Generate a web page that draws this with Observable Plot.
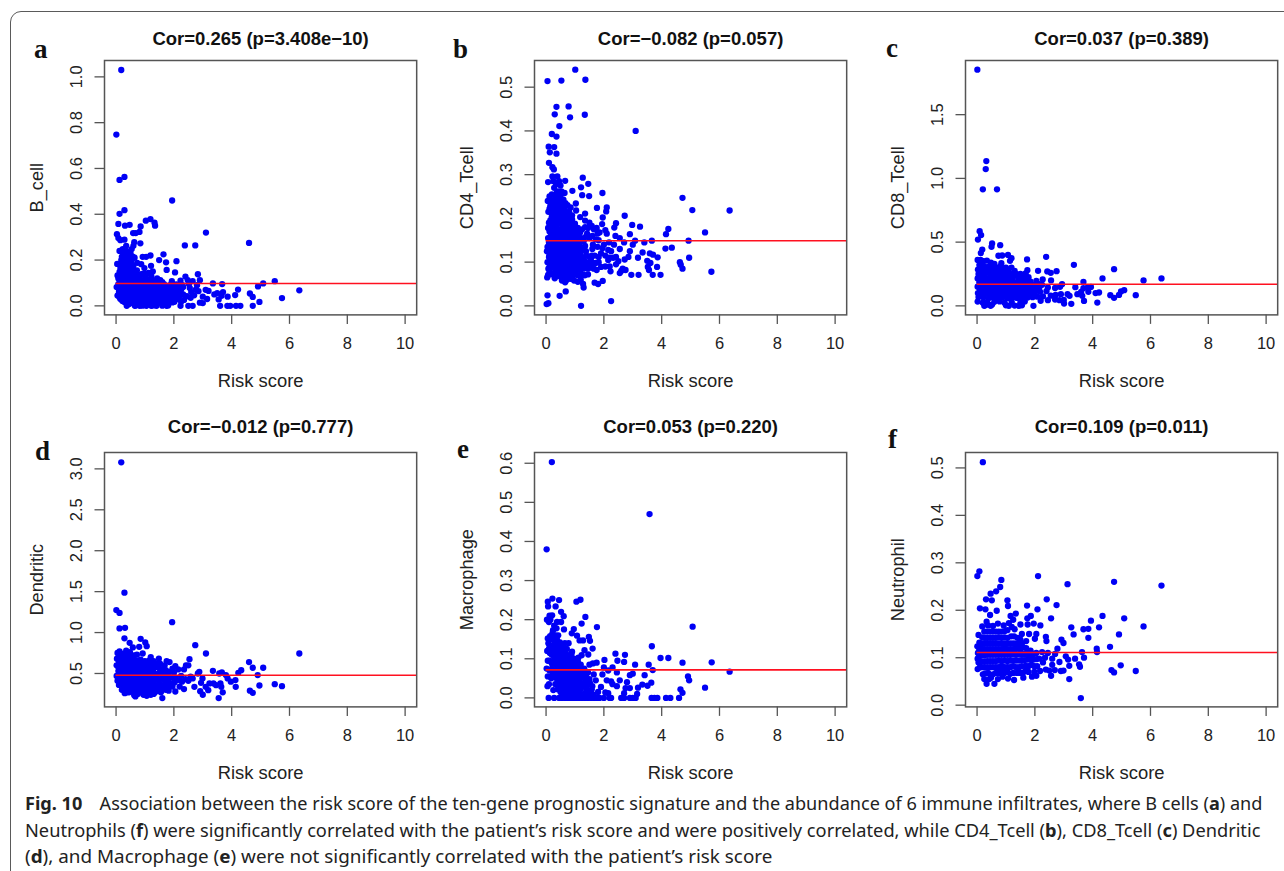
<!DOCTYPE html>
<html><head><meta charset="utf-8">
<script src="https://cdn.jsdelivr.net/npm/d3@7"></script>
<script src="https://cdn.jsdelivr.net/npm/@observablehq/plot@0.6"></script>
<style>
html,body{margin:0;padding:0;background:#fff;width:1284px;height:871px;overflow:hidden}
#page{position:relative;width:1284px;height:871px;overflow:hidden}
#card{position:absolute;left:10px;top:10.5px;width:1500px;height:1200px;border:1.5px solid #5a5a5a;border-radius:11px;box-sizing:border-box}
.panel{position:absolute}
.tag{position:absolute;font:bold 27px "Liberation Serif",serif;color:#111;line-height:1}
.cap{position:absolute;left:25px;white-space:nowrap;font:18.5px "Noto Sans",sans-serif;color:#222;transform-origin:left center}
.cap .fig{margin-right:8px}
</style></head><body><div id="page"><div id="card"></div></div>
<script>
const riskTicks=[0,2,4,6,8,10];
const riskDomain=[-0.4,10.4];
const panelLabels=["B_cell","CD4_Tcell","CD8_Tcell","Dendritic","Macrophage","Neutrophil"];
const panelTitles=["Cor=0.265 (p=3.408e−10)","Cor=−0.082 (p=0.057)","Cor=0.037 (p=0.389)","Cor=−0.012 (p=0.777)","Cor=0.053 (p=0.220)","Cor=0.109 (p=0.011)"];
const panelTags=["a","b","c","d","e","f"];
const meanValues=[0.0975,0.149,0.170,0.479,0.0716,0.111];
const yDomains=[[-0.0394,1.0715],[-0.0206,0.561],[-0.0707,1.925],[0.092,3.2],[-0.023,0.6275],[-0.0036,0.5325]];
const yTicks=[[0,0.2,0.4,0.6,0.8,1.0],[0,0.1,0.2,0.3,0.4,0.5],[0,0.5,1.0,1.5],[0.5,1.0,1.5,2.0,2.5,3.0],[0,0.1,0.2,0.3,0.4,0.5,0.6],[0,0.1,0.2,0.3,0.4,0.5]];

const bCell=[[.18,1.03],[.01,.748],[.12,.55],[.29,.563],[1.94,.46],[.29,.418],[.12,.402],[.08,.358],[.31,.35],[.47,.354],[.03,.313],[.08,.296],[.15,.287],[.29,.289],[.59,.318],[.68,.318],[.81,.323],[.85,.347],[1.03,.372],[1.19,.379],[1.33,.363],[1.35,.35],[3.11,.32],[4.6,.275],[2.38,.264],[2.74,.264],[.84,.273],[.63,.278],[.6,.262],[.54,.248],[.35,.262],[.23,.248],[.12,.24],[1.64,.225],[1.19,.22],[.92,.214],[1.04,.214],[1.49,.2],[2.09,.195],[1.73,.19],[1.75,.157],[.73,.188],[.87,.182],[1.21,.175],[.98,.165],[2.04,.146],[2.83,.138],[2.4,.128],[2.9,.112],[3.35,.098],[3.67,.095],[5.09,.098],[5.49,.108],[4.91,.085],[6.34,.068],[5.74,.034],[4.22,.071],[3.86,.04],[4.12,.047],[4.63,.054],[4.73,.039],[4.96,.017],[4.73,0],[3.6,0],[3.85,0],[3.95,0],[4.15,0],[4.3,0],
[.37,0],[.65,0],[.68,.002],[.82,0],[.92,.001],[1.05,0],[1.22,0],[1.3,.002],[1.4,0],[1.6,.001],[1.75,0],[1.8,.002],[2.23,0],[2.5,0],[2.65,0],[.3,.016],[.5,.012],[.8,.014],[1.1,.017],[1.5,.013],[1.95,.015],[2.25,.018],[2.9,.014],[3.0,.012],[.15,.03],[.25,.028],[.45,.031],[.6,.029],[.75,.032],[.95,.03],[1.15,.027],[1.35,.031],[1.55,.029],[1.7,.033],[1.9,.028],[2.1,.03],[2.35,.026],[3.15,.03],[3.55,.028],[.05,.045],[.2,.043],[.35,.047],[.55,.044],[.7,.046],[.9,.048],[1.1,.044],[1.25,.047],[1.45,.043],[1.65,.046],[1.85,.049],[2.05,.044],[2.45,.042],[2.7,.046],[3.0,.04],[3.4,.05],[3.65,.044],[.1,.06],[.3,.062],[.5,.059],[.65,.063],[.85,.06],[1.0,.062],[1.2,.058],[1.4,.063],[1.6,.06],[1.8,.061],[2.0,.058],[2.2,.063],[2.6,.06],[2.85,.064],[3.1,.07],[3.5,.056],[3.7,.06],[3.2,.065],[.02,.082],[.18,.077],[.4,.079],[.58,.076],[.78,.08],[.96,.077],[1.12,.081],[1.32,.076],[1.52,.079],[1.72,.077],[1.92,.08],[2.12,.076],[2.32,.082],[2.55,.078],[2.75,.07],[.08,.095],[.28,.092],[.46,.095],[.68,.09],[.88,.095],[1.06,.092],[1.26,.096],[1.46,.091],[1.66,.095],[1.86,.09],[2.08,.094],[2.3,.09],[2.52,.096],[2.8,.09],[.13,.11],[.33,.108],[.53,.112],[.73,.107],[.93,.11],[1.13,.114],[1.33,.108],[1.53,.112],[1.93,.108],[2.23,.11],[2.48,.112],[2.65,.108],[.05,.133],[.15,.13],[.25,.127],[.42,.128],[.62,.126],[.82,.125],[1.02,.128],[1.22,.13],[1.42,.12],[.04,.183],[.2,.145],[.33,.148],[.5,.145],[.7,.142],[.9,.14],[1.12,.144],[1.27,.15],[.15,.165],[.25,.163],[.4,.162],[.58,.16],[.72,.155],[.2,.185],[.33,.18],[.45,.178],[.6,.175],[.28,.2],[.4,.198],[.52,.195],[.64,.21],[.58,.215],[.2,.215],[.3,.225],[.44,.218],[.36,.24],[.26,.235],[.5,.23]];
const bCellDense=[[.45,.008],[.75,.007],[1.0,.009],[1.35,.01],[1.68,.008],[.22,.021],[.4,.02],[.62,.018],[.88,.021],[1.05,.02],[1.25,.019],[1.42,.02],[1.62,.018],[1.82,.02],[2.02,.018],[.12,.038],[.3,.037],[.5,.038],[.66,.037],[.82,.039],[1.02,.037],[1.2,.038],[1.4,.037],[1.58,.038],[1.78,.039],[1.98,.037],[2.18,.04],[2.58,.035],[.22,.054],[.42,.053],[.6,.052],[.78,.053],[.95,.054],[1.15,.053],[1.32,.054],[1.52,.053],[1.72,.054],[1.92,.054],[2.12,.052],[2.32,.05],[.1,.072],[.28,.07],[.48,.069],[.7,.07],[.88,.071],[1.08,.07],[1.28,.069],[1.48,.07],[1.65,.069],[1.85,.07],[2.05,.069],[2.25,.07],[.15,.088],[.35,.086],[.52,.085],[.75,.086],[.98,.086],[1.18,.087],[1.4,.086],[1.58,.087],[1.78,.086],[2.0,.085],[2.2,.085],[.22,.102],[.42,.102],[.62,.1],[.8,.1],[1.0,.101],[1.2,.104],[1.42,.1],[1.6,.104],[.08,.12],[.22,.118],[.42,.118],[.6,.118],[.8,.118],[1.03,.118],[1.22,.118],[.12,.148],[.28,.14],[.43,.14],[.6,.137],[.8,.135],[1.0,.14],[.3,.172],[.5,.168],[.38,.19],[.18,.2],[.47,.205],[.35,.208]];

const cd4=[[.05,.514],[.53,.515],[1.01,.54],[1.36,.517],[.36,.455],[.78,.456],[.3,.438],[.83,.431],[1.34,.437],[.46,.411],[3.1,.4],[.2,.393],[.36,.387],[.09,.364],[.28,.363],[.13,.351],[.36,.348],[.1,.327],[.22,.317],[.27,.312],[1.27,.293],[.39,.296],[.22,.296],[.07,.283],[.66,.286],[1.46,.279],[1.21,.271],[.91,.263],[1.95,.258],[1.49,.251],[1.25,.253],[4.72,.247],[1.03,.234],[1.76,.224],[2.1,.225],[2.08,.216],[5.06,.219],[6.35,.218],[2.72,.206],[1.04,.218],[1.35,.211],[1.96,.202],[1.94,.187],[2.98,.185],[2.42,.189],[2.36,.179],[3.25,.181],[4.23,.176],[4.15,.164],[5.5,.168],[2.9,.164],[2.05,.173],[2.4,.16],[3.66,.149],[4.93,.149],[3.4,.145],[3.08,.149],[3,.14],[4.35,.133],[4.13,.131],[3.34,.122],[3.59,.12],[3.7,.117],[3.86,.111],[3.18,.11],[4.95,.11],[4.63,.1],[3.5,.103],[3.61,.098],[4.66,.094],[3.52,.089],[3.84,.089],[4.72,.085],[3.56,.082],[5.72,.078],[2.95,.071],[3.2,.071],[3.69,.071],[3.96,.071],[2.75,.082],[2.55,.075],[2.6,.08],[2.23,.079],[1.96,.057],[1.68,.053],[1.8,.05],[1.3,.042],[1.28,.05],[.05,.024],[.47,.023],[.68,.033],[.02,.004],[.08,.006],[1.21,0],[2.25,.011],
[.04,.065],[.07,.071],[.18,.072],[.3,.063],[.45,.068],[.55,.058],[.66,.054],[.72,.06],[.85,.062],[.97,.058],[1.1,.055],[1.2,.06],[1.34,.07],[1.45,.072],[.08,.085],[.2,.088],[.33,.082],[.47,.079],[.6,.074],[.75,.078],[.88,.076],[1.03,.08],[1.18,.082],[1.55,.088],[1.75,.082],[1.9,.089],[2.05,.09],[2.2,.09],[2.42,.095],[2.65,.085],[.05,.1],[.14,.104],[.28,.098],[.4,.097],[.52,.092],[.66,.095],[.8,.09],[.93,.094],[1.08,.098],[1.25,.095],[1.4,.094],[1.62,.098],[1.82,.1],[2.15,.105],[2.32,.11],[2.5,.102],[2.72,.106],[2.85,.112],[.03,.125],[.12,.118],[.22,.116],[.35,.112],[.47,.108],[.58,.113],[.72,.108],[.85,.112],[.97,.108],[1.12,.11],[1.3,.11],[1.5,.112],[1.68,.115],[1.9,.12],[2.25,.125],[2.55,.13],[2.9,.125],[.05,.135],[.15,.135],[.27,.13],[.4,.13],[.55,.128],[.68,.125],[.8,.128],[.93,.126],[1.07,.125],[1.22,.128],[1.38,.125],[1.6,.13],[1.78,.135],[2.0,.14],[2.18,.145],[2.7,.145],[.07,.155],[.2,.15],[.32,.148],[.47,.145],[.6,.145],[.73,.142],[.87,.145],[1.0,.142],[1.15,.145],[1.3,.148],[1.5,.155],[1.72,.152],[2.55,.155],[.12,.17],[.25,.165],[.38,.163],[.52,.16],[.65,.16],[.8,.16],[.95,.163],[1.1,.16],[1.25,.175],[1.42,.165],[1.65,.175],[1.85,.168],[.1,.19],[.22,.182],[.35,.18],[.48,.175],[.62,.178],[.78,.176],[.92,.18],[1.1,.178],[1.5,.19],[1.75,.178],[.2,.205],[.32,.2],[.45,.195],[.6,.192],[.75,.195],[.9,.198],[1.18,.203],[.12,.222],[.25,.218],[.38,.212],[.52,.21],[.66,.21],[.8,.215],[.06,.24],[.17,.24],[.3,.232],[.44,.228],[.58,.226],[.74,.23],[.85,.225],[.2,.255],[.33,.25],[.46,.245],[.6,.243],[.28,.27],[.42,.262],[.53,.262],[.64,.258],[.5,.275]];
const cd4Dense=[[.12,.078],[.26,.075],[.4,.072],[.53,.07],[.67,.068],[.8,.07],[.95,.07],[1.1,.07],[1.25,.072],[.13,.092],[.26,.09],[.4,.088],[.54,.085],[.68,.085],[.82,.083],[.97,.085],[1.12,.088],[1.3,.085],[1.45,.085],[1.65,.085],[.1,.112],[.28,.11],[.42,.105],[.55,.103],[.72,.1],[.87,.1],[1.02,.102],[1.18,.103],[1.33,.102],[1.5,.1],[1.72,.098],[.08,.125],[.18,.125],[.3,.12],[.42,.12],[.52,.118],[.65,.117],[.78,.118],[.92,.117],[1.05,.115],[1.2,.117],[1.4,.115],[1.58,.115],[.1,.145],[.23,.142],[.36,.14],[.5,.137],[.63,.135],[.77,.135],[.9,.135],[1.03,.135],[1.17,.136],[1.35,.137],[.15,.158],[.28,.157],[.42,.155],[.55,.153],[.68,.152],[.82,.153],[.95,.153],[1.08,.152],[1.23,.155],[1.38,.158],[.07,.178],[.18,.175],[.3,.172],[.44,.168],[.58,.168],[.72,.168],[.87,.17],[1.0,.17],[1.18,.168],[1.35,.18],[.15,.196],[.27,.192],[.4,.188],[.55,.185],[.7,.186],[.85,.188],[1.0,.188],[.08,.215],[.2,.212],[.32,.208],[.46,.203],[.6,.202],[.75,.205],[.9,.207],[.15,.23],[.25,.228],[.38,.222],[.5,.22],[.65,.22],[.12,.25],[.27,.242],[.4,.238],[.53,.235],[.67,.235],[.37,.258],[.5,.252],[.35,.278],[.25,.285],[.45,.285],[1.55,.108],[1.82,.112],[2.05,.115],[2.2,.11],[2.42,.112],[1.62,.14],[1.82,.15],[1.95,.132],[2.15,.128],[2.35,.14],[1.45,.178],[1.6,.16],[1.58,.183],[1.78,.165],[1.35,.195],[2.1,.165]];

const cd8=[[.01,1.853],[.32,1.136],[.3,1.073],[.2,.914],[.69,.914],[.09,.586],[.14,.555],[.03,.52],[.52,.49],[.5,.463],[.8,.476],[.18,.442],[.13,.414],[1.07,.4],[.87,.395],[.74,.393],[2.39,.385],[1.19,.374],[1.14,.353],[1.73,.364],[3.35,.322],[.84,.335],[4.74,.288],[2.11,.275],[2.75,.272],[2.43,.27],[2.55,.259],[1.74,.28],[1.19,.3],[4.34,.215],[5.76,.2],[6.38,.215],[2.56,.2],[3.68,.188],[2.27,.207],[2.94,.17],[3.4,.147],[5.09,.123],[4.98,.113],[5.49,.084],[4.91,.086],[4.61,.084],[4.74,.063],[4.22,.105],[4.1,.1],[4.16,.026],[3.85,.11],[3.94,.149],[3.83,.144],[3.68,.139],[3.47,.092],[3.6,.11],[3.64,.079],[3.7,.039],[3.26,.016],[3.2,.079],[3.13,.092],[3,.047],[3.01,.018],[2.9,.092],[1.95,0],
[.25,0],[.3,.006],[.47,0],[.52,.01],[1.0,.005],[1.1,0],[1.3,.002],[1.45,0],[1.55,.004],[.02,.034],[.2,.025],[.35,.03],[.6,.032],[.78,.035],[.95,.025],[1.2,.03],[1.5,.028],[1.65,.034],[2.2,.04],[2.45,.045],[2.7,.05],[2.85,.045],[.05,.07],[.22,.065],[.4,.06],[.55,.066],[.7,.062],[.88,.066],[1.05,.06],[1.22,.064],[1.38,.062],[1.58,.07],[1.75,.065],[1.92,.068],[2.08,.072],[2.28,.075],[2.55,.08],[2.72,.086],[.03,.1],[.15,.095],[.3,.098],[.48,.094],[.65,.096],[.8,.097],[.98,.093],[1.12,.096],[1.3,.098],[1.48,.095],[1.68,.1],[1.85,.102],[2.0,.105],[2.18,.11],[2.4,.115],[.1,.125],[.25,.128],[.42,.126],[.58,.128],[.72,.125],[.9,.127],[1.05,.125],[1.23,.128],[1.4,.125],[1.6,.13],[1.78,.132],[1.95,.138],[2.15,.14],[2.45,.145],[2.7,.14],[2.87,.15],[.02,.15],[.16,.155],[.33,.157],[.5,.156],[.66,.158],[.84,.156],[1.0,.158],[1.17,.155],[1.34,.157],[1.52,.156],[1.7,.16],[1.9,.165],[2.25,.165],[.08,.185],[.26,.187],[.44,.186],[.62,.19],[.78,.186],[.95,.187],[1.12,.188],[1.3,.187],[1.48,.19],[1.66,.195],[1.85,.19],[2.05,.195],[.02,.215],[.18,.218],[.36,.216],[.54,.218],[.7,.22],[.88,.215],[1.05,.22],[1.22,.218],[1.42,.22],[1.6,.225],[1.78,.225],[.05,.25],[.1,.245],[.27,.248],[.45,.25],[.62,.248],[.8,.248],[.98,.25],[1.15,.25],[1.35,.25],[1.68,.255],[.03,.285],[.2,.28],[.38,.278],[.55,.28],[.72,.275],[.9,.278],[1.08,.28],[1.3,.275],[.08,.32],[.25,.31],[.42,.31],[.58,.31],[.78,.305],[1.0,.3],[.02,.36],[.12,.36],[.22,.35],[.34,.355],[.48,.34],[.6,.33]];
const cd8Dense=[[1.15,.06],[1.5,.07],[1.1,.1],[1.55,.105],[1.75,.1],[1.95,.1],[1.7,.13],[1.85,.13],[2.05,.135],[1.45,.13],[1.8,.16],[2.0,.16],[2.15,.17],[1.6,.19],[1.45,.16],[1.75,.19],[1.5,.22],[1.3,.25],[1.5,.25],[.15,.3],[.33,.3],[.5,.29],[.68,.29],[.85,.3]];

const dendritic=[[.18,3.08],[.29,1.487],[.01,1.275],[.12,1.24],[1.94,1.127],[.12,1.05],[.31,1.058],[.29,.93],[.85,.924],[1.01,.88],[1.06,.834],[.47,.875],[.8,.826],[.58,.818],[2.74,.846],[3.11,.744],[6.34,.744],[.92,.744],[2.54,.675],[4.6,.64],[4.73,.57],[5.09,.57],[4.33,.54],[4.23,.508],[4.9,.48],[5.49,.37],[5.74,.345],[4.96,.353],[4.63,.29],[4.73,.264],[4.14,.337],[4.13,.42],[3.97,.4],[3.86,.44],[3.8,.48],[3.66,.512],[3.57,.5],[3.35,.533],[2.88,.52],[2.83,.5],[2.99,.44],[3,.24],[2.91,.284],[3.55,.2],[3.69,.27],[3.64,.337],[3.61,.378],[3.46,.357],[3.37,.378],[3.23,.378],[3.19,.296],[3.1,.337],[2.94,.386],[2.71,.337],[1.6,.2],[.63,.235],[1.06,.227],
[.05,.75],[.12,.77],[.22,.74],[.35,.78],[.48,.76],[.62,.72],[.72,.73],[1.2,.7],[1.48,.68],[1.75,.65],[1.85,.64],[2.42,.6],[2.5,.6],[2.05,.59],[.03,.68],[.13,.69],[.27,.7],[.4,.68],[.55,.69],[.7,.66],[.85,.67],[1.0,.65],[1.15,.66],[1.3,.65],[1.52,.62],[1.68,.6],[1.95,.56],[2.15,.55],[2.35,.55],[.02,.6],[.15,.62],[.3,.62],[.45,.61],[.6,.6],[.75,.61],[.9,.59],[1.05,.6],[1.2,.58],[1.38,.58],[1.6,.55],[1.82,.52],[2.0,.51],[2.25,.47],[2.58,.46],[.08,.53],[.2,.55],[.35,.54],[.5,.54],[.65,.54],[.8,.53],[.95,.53],[1.12,.52],[1.28,.52],[1.47,.5],[1.72,.47],[1.9,.45],[2.12,.42],[2.4,.43],[2.65,.44],[.02,.47],[.15,.48],[.27,.47],[.42,.48],[.58,.47],[.72,.47],[.88,.46],[1.03,.46],[1.2,.45],[1.38,.46],[1.58,.44],[1.8,.41],[2.02,.39],[2.28,.4],[2.5,.41],[.05,.41],[.18,.41],[.33,.41],[.48,.41],[.64,.4],[.8,.41],[.96,.4],[1.12,.39],[1.3,.39],[1.5,.38],[1.7,.36],[1.95,.34],[2.2,.34],[2.35,.31],[.1,.36],[.25,.35],[.4,.35],[.56,.34],[.72,.34],[.88,.34],[1.05,.33],[1.22,.33],[1.42,.32],[1.62,.31],[1.82,.29],[2.05,.28],[.2,.3],[.33,.29],[.5,.3],[.68,.29],[.82,.28],[1.0,.28],[1.18,.28],[1.35,.27],[1.55,.27],[.3,.26],[.38,.27],[.75,.25],[.95,.24],[1.2,.24],[1.3,.25],[.67,.22]];
const dendriticDense=[[.1,.72],[.3,.74],[.45,.72],[.1,.64],[.22,.65],[.35,.65],[.5,.65],[.63,.65],[.78,.64],[.93,.63],[1.08,.62],[1.22,.62],[1.42,.62],[.08,.58],[.22,.58],[.38,.58],[.52,.58],[.68,.57],[.83,.57],[.98,.56],[1.13,.56],[1.3,.56],[1.5,.56],[1.72,.54],[.12,.5],[.27,.51],[.42,.51],[.58,.51],[.73,.5],[.88,.5],[1.03,.49],[1.2,.49],[1.38,.49],[1.58,.49],[1.82,.46],[2.05,.45],[.08,.44],[.23,.44],[.38,.44],[.53,.44],[.68,.43],[.83,.43],[.98,.43],[1.13,.42],[1.28,.42],[1.45,.42],[1.68,.41],[1.9,.38],[.15,.38],[.3,.38],[.45,.38],[.6,.37],[.76,.37],[.92,.37],[1.08,.36],[1.25,.36],[1.42,.35],[1.6,.35],[1.85,.34],[.3,.32],[.45,.32],[.6,.31],[.78,.31],[.95,.31],[1.12,.31],[1.3,.3],[1.48,.3],[1.72,.3],[.45,.27],[.6,.27],[.88,.27],[1.1,.26]];

const macrophage=[[.2,.603],[3.58,.47],[.02,.38],[5.07,.182],[.22,.254],[.06,.246],[.45,.25],[1.05,.246],[1.19,.251],[.07,.234],[.33,.234],[.21,.211],[.52,.22],[.61,.209],[1.36,.207],[.03,.2],[.1,.194],[.38,.194],[.52,.194],[1.23,.19],[1.76,.181],[.62,.175],[.96,.176],[.24,.173],[.89,.165],[1.48,.156],[1.07,.159],[1.52,.146],[1.16,.147],[1.28,.147],[1.61,.126],[3.66,.132],[1.33,.122],[2.4,.113],[2.73,.11],[1.46,.111],[1.23,.109],[3.96,.102],[4.23,.102],[2.02,.097],[2.47,.095],[2.7,.092],[4.72,.09],[5.73,.091],[3.55,.085],[3.08,.085],[3.69,.071],[6.35,.067],[4.91,.055],[4.95,.045],[3.41,.058],[3.64,.039],[3.51,.031],[3.33,.034],[3.18,.026],[5.5,.026],[4.65,.022],[4.72,.013],
[.09,0],[.28,0],[.45,0],[.55,0],[.65,0],[.75,0],[.85,0],[.95,0],[1.05,0],[1.15,0],[1.25,0],[1.35,0],[1.45,0],[1.55,0],[1.65,0],[1.75,0],[1.85,0],[2.0,0],[2.2,0],[2.25,0],[2.6,0],[2.7,0],[2.9,0],[3,0],[3.1,0],[3.65,0],[3.75,0],[3.85,0],[4.15,0],[4.3,0],[4.6,0],
[.05,.03],[.25,.02],[.5,.015],[.65,.018],[.8,.012],[.98,.014],[1.15,.016],[1.35,.012],[1.55,.016],[1.8,.015],[2.05,.014],[2.15,.012],[3.15,.01],[2.7,.012],[.1,.035],[.32,.035],[.48,.03],[.62,.032],[.78,.03],[.93,.032],[1.08,.03],[1.25,.03],[1.42,.032],[1.6,.03],[1.9,.028],[2.3,.035],[2.45,.03],[2.75,.025],[2.9,.025],[.06,.055],[.18,.05],[.36,.05],[.52,.048],[.68,.05],[.84,.048],[1.0,.05],[1.17,.048],[1.33,.05],[1.5,.048],[1.72,.045],[2.1,.045],[2.25,.042],[2.55,.045],[2.8,.04],[.02,.075],[.12,.07],[.28,.065],[.45,.067],[.6,.066],[.76,.066],[.92,.068],[1.1,.066],[1.27,.068],[1.45,.065],[1.65,.06],[1.95,.06],[2.15,.07],[2.45,.065],[2.9,.058],[3.0,.062],[.06,.095],[.2,.088],[.35,.085],[.52,.084],[.68,.085],[.85,.085],[1.03,.085],[1.2,.085],[1.5,.085],[1.62,.088],[1.75,.09],[2.0,.078],[2.3,.078],[.04,.12],[.13,.115],[.28,.105],[.45,.102],[.62,.104],[.8,.105],[1.0,.1],[1.12,.103],[.08,.14],[.2,.13],[.35,.125],[.52,.125],[.72,.125],[.9,.118],[.06,.152],[.2,.15],[.3,.145],[.48,.142],[.65,.14],[.78,.14],[.12,.135],[.22,.165],[.33,.16],[.42,.16],[.28,.185],[.36,.178],[.15,.2],[.12,.21]];
const macrophageDense=[[.55,.008],[.72,.01],[.9,.007],[1.08,.008],[1.25,.007],[1.45,.008],[1.65,.008],[.4,.022],[.58,.024],[.72,.022],[.88,.023],[1.05,.022],[1.2,.022],[1.4,.022],[1.58,.022],[.4,.042],[.58,.04],[.72,.04],[.88,.04],[1.03,.04],[1.2,.038],[1.35,.04],[1.52,.038],[.22,.058],[.42,.058],[.58,.058],[.72,.058],[.88,.058],[1.03,.058],[1.2,.058],[1.38,.058],[.2,.075],[.38,.075],[.52,.075],[.68,.075],[.82,.075],[.98,.075],[1.15,.075],[1.32,.075],[.12,.095],[.28,.095],[.42,.093],[.58,.094],[.75,.095],[.92,.095],[1.1,.093],[.2,.11],[.36,.11],[.52,.112],[.7,.112],[.88,.11],[.1,.125],[.28,.122],[.42,.115],[.62,.118],[.27,.135],[.42,.133],[.58,.132],[.14,.158],[.24,.155],[.38,.148]];

const neutrophil=[[.2,.512],[.08,.282],[.01,.272],[.84,.264],[2.11,.272],[3.13,.255],[4.74,.26],[6.38,.252],[.8,.249],[.66,.24],[.47,.235],[.31,.223],[.51,.221],[1.05,.221],[2.41,.223],[1.07,.209],[1.73,.21],[2.75,.211],[.1,.204],[.29,.202],[.68,.199],[2.09,.202],[4.34,.188],[1.34,.193],[1.16,.188],[1.86,.188],[.45,.19],[2.56,.183],[5.09,.183],[3.94,.178],[1.74,.183],[1.96,.172],[5.76,.166],[4.22,.164],[3.26,.164],[3.68,.16],[3.85,.161],[2.19,.168],[.33,.176],[3.34,.149],[4.91,.149],[2.05,.15],[2.38,.144],[3.85,.142],[2.92,.138],[2.99,.131],[2.4,.135],[4.6,.123],[4.14,.119],[4.15,.112],[2.78,.119],[3.63,.112],[3.7,.1],[3.07,.103],[3.15,.096],[3.39,.098],[2.85,.091],[4.97,.084],[3.53,.086],[3.56,.081],[3.19,.083],[4.65,.074],[4.74,.069],[5.49,.072],[2.99,.073],[2.9,.072],[2.69,.074],[2.56,.062],[3.19,.055],[3.59,.015],
[.33,.045],[.6,.045],[.25,.055],[.42,.055],[.72,.055],[.88,.06],[1.07,.056],[1.28,.053],[1.6,.058],[1.9,.06],[2.05,.062],[.2,.065],[.38,.068],[.55,.065],[.75,.068],[.95,.068],[1.15,.066],[1.38,.068],[1.58,.068],[1.78,.07],[1.98,.07],[2.18,.072],[2.38,.075],[2.5,.073],[.1,.08],[.02,.076],[.25,.08],[.45,.08],[.65,.08],[.85,.082],[1.05,.08],[1.25,.082],[1.45,.08],[1.68,.083],[1.88,.085],[2.08,.082],[2.28,.09],[2.6,.085],[.02,.098],[.15,.092],[.35,.093],[.55,.093],[.75,.094],[.95,.094],[1.15,.094],[1.35,.094],[1.55,.095],[1.75,.096],[1.95,.096],[2.15,.098],[2.35,.1],[2.6,.098],[.08,.105],[.25,.105],[.45,.106],[.65,.106],[.85,.106],[1.05,.106],[1.25,.107],[1.45,.107],[1.65,.108],[1.85,.108],[2.05,.11],[2.25,.112],[2.45,.11],[2.7,.108],[.01,.124],[.15,.118],[.35,.118],[.55,.118],[.75,.118],[.95,.119],[1.15,.118],[1.35,.12],[1.6,.122],[1.85,.115],[.08,.132],[.25,.13],[.45,.13],[.65,.13],[.85,.13],[1.05,.13],[1.25,.13],[1.5,.138],[1.7,.135],[.05,.148],[.18,.143],[.35,.142],[.55,.142],[.75,.143],[.95,.143],[1.18,.145],[1.55,.15],[1.8,.15],[2.0,.14],[.25,.155],[.45,.155],[.65,.155],[.85,.155],[1.05,.158],[1.3,.16],[1.5,.17],[1.75,.17],[.18,.166],[.38,.168],[.55,.167],[.72,.172],[.92,.168],[1.1,.173],[1.25,.18],[1.2,.165]];
const neutrophilDense=[[.28,.067],[.48,.058],[.65,.068],[.85,.07],[1.05,.07],[1.25,.068],[1.48,.068],[1.68,.072],[.15,.08],[.35,.08],[.55,.08],[.75,.08],[.95,.08],[1.15,.08],[1.35,.08],[1.55,.082],[1.78,.082],[1.98,.082],[.1,.093],[.25,.092],[.45,.093],[.65,.093],[.85,.093],[1.05,.093],[1.25,.094],[1.45,.094],[1.65,.095],[1.85,.096],[2.05,.097],[.15,.105],[.35,.106],[.55,.106],[.75,.106],[.95,.106],[1.15,.106],[1.35,.106],[1.55,.107],[1.75,.108],[1.95,.108],[.08,.118],[.25,.118],[.45,.118],[.65,.118],[.85,.118],[1.05,.118],[1.25,.118],[1.45,.12],[1.7,.12],[.17,.13],[.35,.13],[.55,.13],[.75,.13],[.95,.13],[1.15,.13],[1.35,.13],[.27,.142],[.45,.142],[.65,.142],[.85,.142],[1.05,.142],[1.28,.145],[.35,.155],[.55,.155],[.75,.155],[.95,.156],[.1,.112],[.3,.112],[.5,.112],[.7,.112],[.9,.112],[1.1,.112],[1.3,.112],[1.5,.114],[1.4,.128],[1.55,.13],[1.4,.142],[.05,.09],[.12,.125],[.03,.11]];

const panelPoints=[bCell.concat(bCellDense),cd4.concat(cd4Dense),cd8.concat(cd8Dense),dendritic.concat(dendriticDense),macrophage.concat(macrophageDense),neutrophil.concat(neutrophilDense)];
const frameLefts=[103.5,534.3,965];
const frameTops=[60,452.3];
const frameW=312.2, frameH=254.4;
const titleOffsets=[-21.7,-25.8];
const tagPos=[[34,36],[453,36],[886,35],[35,438],[457,436],[888,426]];
const captionLines=[
'<b class="fig">Fig. 10</b>&nbsp; Association between the risk score of the ten-gene prognostic signature and the abundance of 6 immune infiltrates, where B cells (<b>a</b>) and',
'Neutrophils (<b>f</b>) were significantly correlated with the patient’s risk score and were positively correlated, while CD4_Tcell (<b>b</b>), CD8_Tcell (<b>c</b>) Dendritic',
'(<b>d</b>), and Macrophage (<b>e</b>) were not significantly correlated with the patient’s risk score'];
const captionY=[790,816.5,843];
const captionScale=[0.979,0.985,1.02];
const sans="Liberation Sans";

const page=document.getElementById("page");
const mL=100,mR=6,mT=50,mB=80;
panelPoints.forEach((pts,i)=>{
  const col=i%3,row=Math.floor(i/3);
  const chart=Plot.plot({
    width:mL+frameW+mR,height:mT+frameH+mB,
    marginLeft:mL,marginRight:mR,marginTop:mT,marginBottom:mB,
    style:{background:"transparent",overflow:"visible",fontFamily:sans},
    x:{domain:riskDomain,ticks:riskTicks},
    y:{domain:yDomains[i]},
    marks:[
      Plot.dot(pts,{x:d=>d[0],y:d=>d[1],r:3.15,fill:"#0000f5",stroke:"none"}),
      Plot.ruleY([meanValues[i]],{x1:0,x2:riskDomain[1],stroke:"#ff1020",strokeWidth:1.6}),
      Plot.frame({stroke:"#555",strokeWidth:1.5}),
      Plot.axisX({ticks:riskTicks,tickSize:9.5,tickPadding:13,fontSize:16.5,fontFamily:sans,stroke:"#555",strokeWidth:1.3,color:"#222",tickFormat:d3.format("d"),label:null}),
      Plot.axisY({ticks:yTicks[i],tickSize:9.5,tickPadding:13,tickRotate:-90,fontSize:16.5,fontFamily:sans,stroke:"#555",strokeWidth:1.3,color:"#222",tickFormat:d3.format(".1f"),label:null}),
      Plot.text(["Risk score"],{frameAnchor:"bottom",lineAnchor:"middle",dy:66.7,text:d=>d,fontSize:18.4,fontFamily:sans,fill:"#222"}),
      Plot.text([panelLabels[i]],{frameAnchor:"left",textAnchor:"middle",lineAnchor:"middle",rotate:-90,dx:-67.5,text:d=>d,fontSize:18.2,fontFamily:sans,fill:"#222"}),
      Plot.text([panelTitles[i]],{frameAnchor:"top",lineAnchor:"middle",dy:titleOffsets[row],text:d=>d,fontSize:18.5,fontWeight:"bold",fontFamily:sans,fill:"#111"})
    ]
  });
  const holder=document.createElement("div");
  holder.className="panel";
  holder.style.left=(frameLefts[col]-mL)+"px";
  holder.style.top=(frameTops[row]-mT)+"px";
  holder.appendChild(chart);
  page.appendChild(holder);
  const tag=document.createElement("div");
  tag.className="tag";tag.textContent=panelTags[i];
  tag.style.left=tagPos[i][0]+"px";tag.style.top=tagPos[i][1]+"px";
  page.appendChild(tag);
});
captionLines.forEach((html,i)=>{
  const d=document.createElement("div");
  d.className="cap";d.innerHTML=html;d.style.top=captionY[i]+"px";
  d.style.transform="scaleX("+captionScale[i]+")";
  page.appendChild(d);
});
</script></body></html>
